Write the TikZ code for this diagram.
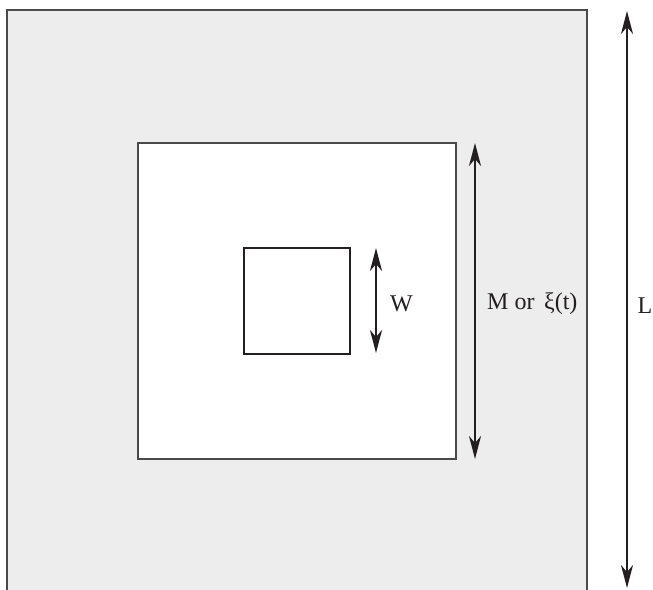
\documentclass[tikz,border=0pt]{standalone}
\usepackage{fontspec}
\setmainfont{Liberation Serif}
\usetikzlibrary{arrows.meta}
\definecolor{panel}{HTML}{EDEDED}
\definecolor{edge}{HTML}{4A4A4A}
\definecolor{ink}{HTML}{231F20}
\begin{document}
\begin{tikzpicture}[x=1pt,y=-1pt,
  sq/.style={rectangle,anchor=north west,outer sep=0pt,inner sep=0pt},
  dim/.style={draw=ink,line width=2pt,{Stealth[length=23pt,width=12pt,inset=7pt]}-{Stealth[length=23pt,width=12pt,inset=7pt]}},
  lab/.style={font=\fontsize{24}{28}\selectfont,text=ink,anchor=base west,inner sep=0pt}]
\useasboundingbox (0,0) rectangle (653,589);
\clip (0,0) rectangle (653,589);
\node[sq,fill=panel,draw=edge,line width=1.3pt,minimum width=580pt,minimum height=590pt] (outer) at (7,10) {};
\node[sq,fill=white,draw=edge,line width=1.3pt,minimum width=318pt,minimum height=316pt] (middle) at (138,143) {};
\node[sq,fill=white,draw=ink,line width=2.8pt,minimum width=106pt,minimum height=106pt] (inner) at (244,248) {};
\coordinate (wtop) at (376,248);
\coordinate (wbot) at (376,353);
\coordinate (mtop) at (475,143);
\coordinate (mbot) at (475,459);
\coordinate (ltop) at (627,11);
\coordinate (lbot) at (627,588);
\draw[dim] (wtop) -- (wbot);
\draw[dim] (mtop) -- (mbot);
\draw[dim] (ltop) -- (lbot);
\node[lab] (wlab) at (390,311) {W};
\node[lab] (mlab) at (487,309) {M or\hspace{0.4em}ξ(t)};
\node[lab] (llab) at (637.5,313) {L};
\end{tikzpicture}
\end{document}
